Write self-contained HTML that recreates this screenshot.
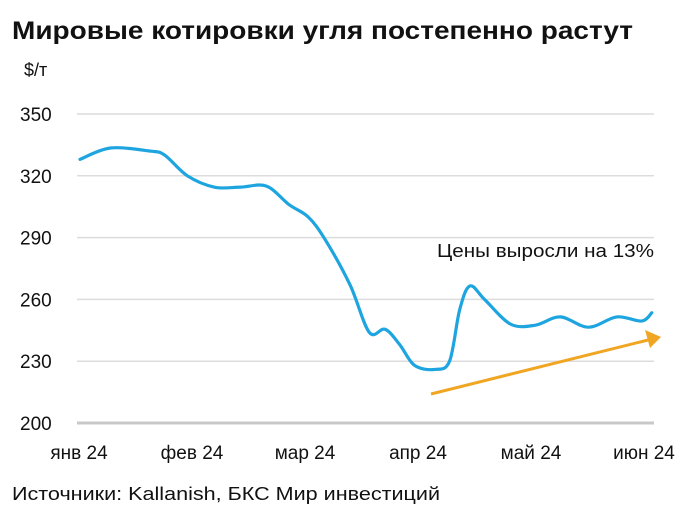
<!DOCTYPE html>
<html><head><meta charset="utf-8"><style>
body{margin:0;background:#fff;width:700px;height:520px;overflow:hidden;font-family:"Liberation Sans","DejaVu Sans",sans-serif}
</style></head><body>
<svg id="chart" width="700" height="520" xmlns="http://www.w3.org/2000/svg" font-family="Liberation Sans, DejaVu Sans, sans-serif">
<text x="12" y="39" font-size="25" font-weight="bold" fill="#111" textLength="621" lengthAdjust="spacingAndGlyphs">Мировые котировки угля постепенно растут</text>
<text x="24" y="76" font-size="18" fill="#111">$/т</text>
<g id="grid"></g><g id="xlabels"></g>
<path id="line" fill="none" stroke="#1ea5e0" stroke-width="3.2" stroke-linejoin="round" stroke-linecap="round"/>
<line x1="431" y1="394" x2="648" y2="340" stroke="#f0a623" stroke-width="3"/>
<polygon points="661,337 645,330 650,348" fill="#f0a623"/>
<text x="654" y="257" text-anchor="end" font-size="18" fill="#111" textLength="217" lengthAdjust="spacingAndGlyphs">Цены выросли на 13%</text>
<text x="12" y="500" font-size="18" fill="#111" textLength="428" lengthAdjust="spacingAndGlyphs">Источники: Kallanish, БКС Мир инвестиций</text>
</svg>
<script>
const yTicks=[200,230,260,290,320,350];
const monthLabels=["янв 24","фев 24","мар 24","апр 24","май 24","июн 24"];
const months=[0,0.27,0.62,0.75,0.95,1.19,1.42,1.65,1.85,2.02,2.17,2.39,2.56,2.7,2.83,2.96,3.14,3.27,3.36,3.45,3.58,3.81,4.03,4.25,4.5,4.75,4.97,5.06];
const prices=[328,333.5,332,330,320,314.5,314.5,315,306,300,289,267,244,245.5,238,228,226,230,255,266.5,260,248,247.5,251.5,246.5,251.5,249.5,253.5];
const NS="http://www.w3.org/2000/svg";
const X0=80,DX=113,XL=77,XR=654;
const xs=m=>X0+m*DX;
const ys=v=>423-(v-200)*(309/150);
const grid=document.getElementById('grid');
yTicks.forEach(t=>{
 const l=document.createElementNS(NS,'line');
 
 
 l.setAttribute('x1',XL);l.setAttribute('x2',XR);l.setAttribute('y1',ys(t));l.setAttribute('y2',ys(t));
 l.setAttribute('stroke',t===200?'#c8c8c8':'#dcdcdc');l.setAttribute('stroke-width',t===200?3:1.5);
 grid.appendChild(l);
 const tx=document.createElementNS(NS,'text');
 
 
 tx.setAttribute('x',20);tx.setAttribute('y',ys(t)+7);tx.setAttribute('font-size','19');tx.setAttribute('fill','#111');
 tx.textContent=t;grid.appendChild(tx);
});
const xl=document.getElementById('xlabels');
monthLabels.forEach((s,i)=>{
 const tx=document.createElementNS(NS,'text');
 
 
 tx.setAttribute('x',xs(i)-1);tx.setAttribute('y',459);tx.setAttribute('font-size','19');tx.setAttribute('text-anchor','middle');tx.setAttribute('fill','#111');
 tx.textContent=s;xl.appendChild(tx);
});
const P=months.map((m,i)=>[xs(m),ys(prices[i])]);
let d='M'+P[0][0]+','+P[0][1];
for(let i=0;i<P.length-1;i++){
 const p0=P[i-1]||P[i],p1=P[i],p2=P[i+1],p3=P[i+2]||p2;
 const c1=[p1[0]+(p2[0]-p0[0])/6,p1[1]+(p2[1]-p0[1])/6];
 const c2=[p2[0]-(p3[0]-p1[0])/6,p2[1]-(p3[1]-p1[1])/6];
 d+=' C'+c1+' '+c2+' '+p2;
}
document.getElementById('line').setAttribute('d',d);
</script>
</body></html>
